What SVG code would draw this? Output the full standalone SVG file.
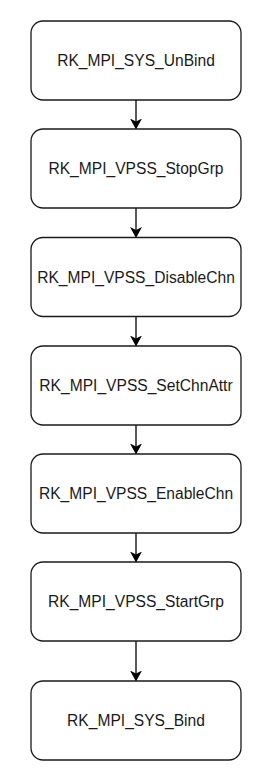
<svg xmlns="http://www.w3.org/2000/svg" width="276" height="778" viewBox="0 0 276 778">
<style>
.box{fill:#fff;stroke:#1a1a1a;stroke-width:1.3}
.lbl{font-family:"Liberation Sans",Arial,sans-serif;font-size:15.6px;fill:#1a1a1a;text-anchor:middle;dominant-baseline:central}
.con{stroke:#000;stroke-width:1.3;fill:none;marker-end:url(#ah)}
</style>
<defs>
<marker id="ah" markerWidth="12" markerHeight="12" refX="10" refY="6" orient="auto" markerUnits="userSpaceOnUse">
<path d="M0,0 L11,6 L0,12 L3,6 Z" fill="#000"/>
</marker>
</defs>
<rect width="276" height="778" fill="#fff"/>
<g id="connectors">
<line class="con" x1="136" y1="100" x2="136" y2="128.5"/>
<line class="con" x1="136" y1="208" x2="136" y2="237"/>
<line class="con" x1="136" y1="316.5" x2="136" y2="345.5"/>
<line class="con" x1="136" y1="425" x2="136" y2="453.5"/>
<line class="con" x1="136" y1="533" x2="136" y2="561.5"/>
<line class="con" x1="136" y1="641" x2="136" y2="680.5"/>
</g>
<g id="n1"><rect class="box" x="31" y="21" width="210" height="79" rx="12"/><text class="lbl" x="136" y="60.5">RK_MPI_SYS_UnBind</text></g>
<g id="n2"><rect class="box" x="31" y="129" width="210" height="79" rx="12"/><text class="lbl" x="136" y="168.5">RK_MPI_VPSS_StopGrp</text></g>
<g id="n3"><rect class="box" x="31" y="237.5" width="210" height="79" rx="12"/><text class="lbl" x="136" y="277">RK_MPI_VPSS_DisableChn</text></g>
<g id="n4"><rect class="box" x="31" y="346" width="210" height="79" rx="12"/><text class="lbl" x="136" y="385.5">RK_MPI_VPSS_SetChnAttr</text></g>
<g id="n5"><rect class="box" x="31" y="454" width="210" height="79" rx="12"/><text class="lbl" x="136" y="493.5">RK_MPI_VPSS_EnableChn</text></g>
<g id="n6"><rect class="box" x="31" y="562" width="210" height="79" rx="12"/><text class="lbl" x="136" y="601.5">RK_MPI_VPSS_StartGrp</text></g>
<g id="n7"><rect class="box" x="31" y="681" width="210" height="79" rx="12"/><text class="lbl" x="136" y="720.5">RK_MPI_SYS_Bind</text></g>
</svg>
